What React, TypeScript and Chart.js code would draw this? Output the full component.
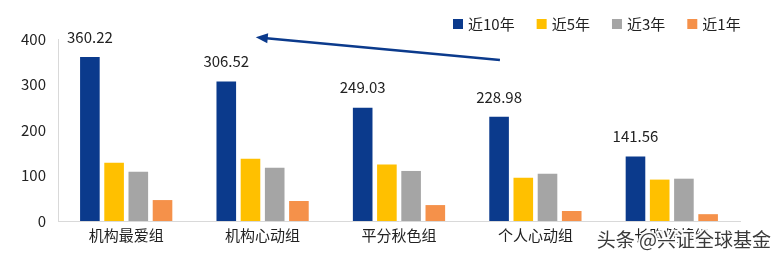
import React, { useEffect, useRef } from "react";
import { Chart, registerables } from "chart.js";

Chart.register(...registerables);

const categories = ["机构最爱组", "机构心动组", "平分秋色组", "个人心动组", "长跑健将组"];
const seriesNames = ["近10年", "近5年", "近3年", "近1年"];
const tenYear = [360.22, 306.52, 249.03, 228.98, 141.56];
const fiveYear = [128, 137, 124, 95, 91];
const threeYear = [108, 117, 110, 104, 93];
const oneYear = [46, 44, 35, 22, 15];
const colors = ["#0B3A8C", "#FFC000", "#A5A5A5", "#F5914A"];
const yTicks = [0, 100, 200, 300, 400];
// arrow annotation in data space: [categoryIndex, value]
const arrowFrom = [2.74, 354];
const arrowTo = [0.95, 404];
const watermark = "头条 @兴证全球基金";

const FONT = "'Noto Sans CJK SC', 'Noto Sans', sans-serif";

export default function App() {
  const ref = useRef<HTMLCanvasElement>(null);
  useEffect(() => {
    document.body.style.margin = "0";
    const ctx = ref.current!.getContext("2d")!;
    const plugin = {
      id: "custom",
      afterDraw(chart: any) {
        const c = chart.ctx;
        const xs = chart.scales.x;
        const ys = chart.scales.y;
        // data labels for first series
        const meta = chart.getDatasetMeta(0);
        c.save();
        c.font = `15px ${FONT}`;
        c.fillStyle = "#222";
        c.textAlign = "center";
        c.textBaseline = "middle";
        meta.data.forEach((el: any, i: number) => {
          c.fillText(tenYear[i].toFixed(2), el.x, el.y - 20);
        });
        // legend
        let lx = 453;
        const ly = 24;
        c.textAlign = "left";
        c.font = `15px ${FONT}`;
        seriesNames.forEach((n, i) => {
          c.fillStyle = colors[i];
          c.fillRect(lx, ly - 5, 10, 10);
          c.fillStyle = "#222";
          c.fillText(n, lx + 15, ly);
          lx += 15 + c.measureText(n).width + 22;
        });
        // arrow
        const x1 = xs.getPixelForValue(arrowFrom[0]);
        const y1 = ys.getPixelForValue(arrowFrom[1]);
        const x2 = xs.getPixelForValue(arrowTo[0]);
        const y2 = ys.getPixelForValue(arrowTo[1]);
        const ang = Math.atan2(y2 - y1, x2 - x1);
        c.strokeStyle = "#0B3A8C";
        c.fillStyle = "#0B3A8C";
        c.lineWidth = 2.5;
        c.beginPath();
        c.moveTo(x1, y1);
        c.lineTo(x2 - 8 * Math.cos(ang), y2 - 8 * Math.sin(ang));
        c.stroke();
        c.beginPath();
        c.moveTo(x2, y2);
        c.lineTo(x2 - 12 * Math.cos(ang) + 5 * Math.sin(ang), y2 - 12 * Math.sin(ang) - 5 * Math.cos(ang));
        c.lineTo(x2 - 12 * Math.cos(ang) - 5 * Math.sin(ang), y2 - 12 * Math.sin(ang) + 5 * Math.cos(ang));
        c.closePath();
        c.fill();
        // watermark
        c.font = `19px ${FONT}`;
        c.textAlign = "right";
        c.textBaseline = "middle";
        c.lineWidth = 4;
        c.strokeStyle = "rgba(255,255,255,0.95)";
        c.strokeText(watermark, 771, 240);
        c.fillStyle = "#3a3a3a";
        c.fillText(watermark, 771, 240);
        c.restore();
      },
    };
    const chart = new Chart(ctx, {
      type: "bar",
      data: {
        labels: categories,
        datasets: [tenYear, fiveYear, threeYear, oneYear].map((d, i) => ({
          label: seriesNames[i],
          data: d,
          backgroundColor: colors[i],
          categoryPercentage: 0.71,
          barPercentage: 0.81,
        })),
      },
      options: {
        animation: false,
        responsive: false,
        maintainAspectRatio: false,
        layout: { padding: { top: 39, right: 40, left: 0, bottom: 0 } },
        plugins: { legend: { display: false }, tooltip: { enabled: false } },
        scales: {
          x: {
            grid: { display: false, drawTicks: false },
            border: { color: "#D9D9D9", width: 1 },
            ticks: { color: "#222", font: { size: 15, family: FONT }, padding: 5 },
            afterFit: (s: any) => { s.height = 35; },
          },
          y: {
            min: 0,
            max: 400,
            grid: { display: false, drawTicks: false },
            border: { color: "#D9D9D9", width: 1 },
            ticks: {
              stepSize: 100,
              color: "#222",
              font: { size: 15, family: FONT },
              padding: 12,
              callback: (v: any) => (yTicks.includes(Number(v)) ? String(v) : ""),
            },
            afterFit: (s: any) => { s.width = 58; },
          },
        },
      },
      plugins: [plugin],
    });
    return () => chart.destroy();
  }, []);
  return (
    <div style={{ position: "relative", width: 780, height: 256, background: "#fff" }}>
      <canvas ref={ref} width={780} height={256} style={{ display: "block" }} />
    </div>
  );
}
